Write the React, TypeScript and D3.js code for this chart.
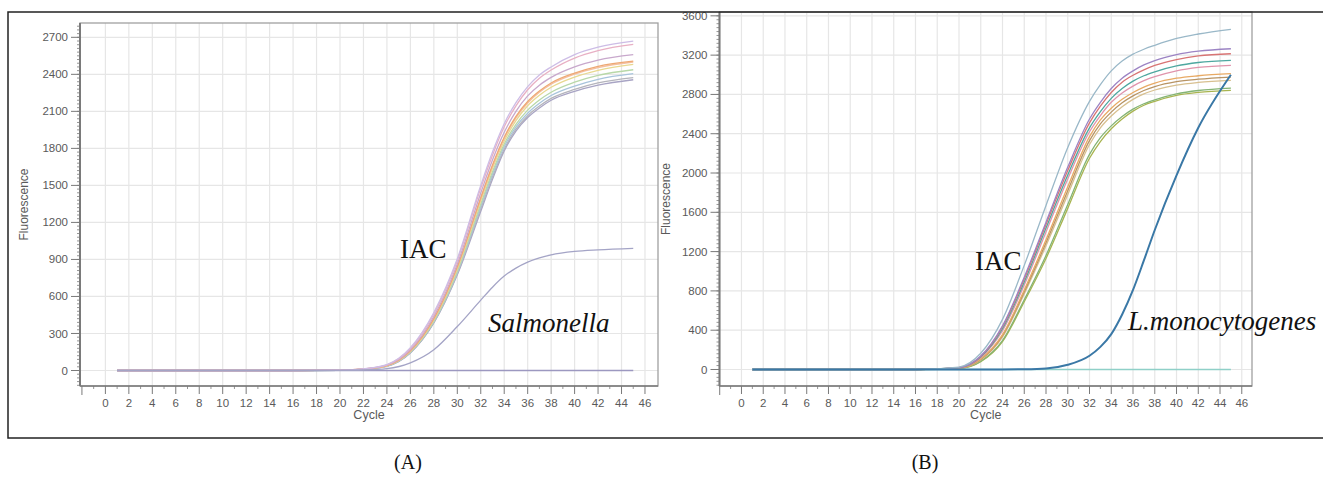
import React from 'react';
import * as d3 from 'd3';

// ---------- data ----------
const cycles = [1, 16, 20, 22, 24, 26, 28, 30, 32, 33, 34, 35, 36, 37, 38, 40, 42, 45];
const xTickLabels = [0, 2, 4, 6, 8, 10, 12, 14, 16, 18, 20, 22, 24, 26, 28, 30, 32, 34, 36, 38, 40, 42, 44, 46];
const yTicksA = [0, 300, 600, 900, 1200, 1500, 1800, 2100, 2400, 2700];
const yTicksB = [0, 400, 800, 1200, 1600, 2000, 2400, 2800, 3200, 3600];

// Panel A – IAC curves
const iacA1 = [0, 0, 3, 14, 48, 185, 470, 905, 1500, 1770, 2000, 2170, 2300, 2395, 2460, 2560, 2620, 2669];
const iacA2 = [0, 0, 3, 13, 46, 178, 458, 890, 1478, 1745, 1975, 2145, 2275, 2368, 2435, 2532, 2592, 2642];
const iacA3 = [0, 0, 3, 12, 43, 168, 438, 862, 1438, 1705, 1930, 2100, 2225, 2312, 2375, 2460, 2515, 2559];
const iacA4 = [0, 0, 3, 12, 40, 160, 420, 840, 1400, 1665, 1890, 2060, 2180, 2265, 2330, 2410, 2465, 2507];
const iacA5 = [0, 0, 3, 12, 40, 158, 418, 835, 1392, 1655, 1880, 2048, 2168, 2255, 2320, 2402, 2455, 2500];
const iacA6 = [0, 0, 3, 11, 38, 155, 410, 822, 1375, 1638, 1860, 2025, 2145, 2230, 2295, 2378, 2433, 2480];
const iacA7 = [0, 0, 2, 11, 37, 150, 400, 805, 1350, 1610, 1835, 1995, 2110, 2192, 2255, 2336, 2391, 2437];
const iacA8 = [0, 0, 2, 10, 36, 148, 395, 795, 1330, 1590, 1815, 1975, 2085, 2165, 2228, 2305, 2360, 2405];
const iacA9 = [0, 0, 2, 10, 35, 145, 390, 785, 1310, 1570, 1795, 1955, 2065, 2143, 2205, 2278, 2330, 2373];
const iacA10 = [0, 0, 2, 10, 34, 142, 385, 775, 1290, 1550, 1780, 1940, 2050, 2128, 2190, 2262, 2312, 2356];
const salmonella = [0, 0, 1, 4, 15, 62, 168, 356, 570, 675, 765, 830, 878, 912, 937, 965, 978, 990];
const baselineA = [0, 0, 0, 0, 0, 0, 0, 0, 0, 0, 0, 0, 0, 0, 0, 0, 0, 0];

// Panel B – IAC curves
const iacB1 = [0, 0, 25, 165, 510, 1060, 1670, 2260, 2730, 2900, 3040, 3140, 3210, 3260, 3300, 3370, 3415, 3463];
const iacB2 = [0, 0, 20, 138, 445, 940, 1500, 2060, 2550, 2720, 2860, 2965, 3040, 3100, 3145, 3205, 3240, 3265];
const iacB3 = [0, 0, 20, 132, 435, 920, 1475, 2025, 2510, 2680, 2820, 2925, 2995, 3050, 3095, 3155, 3192, 3214];
const iacB4 = [0, 0, 18, 128, 415, 890, 1440, 1980, 2460, 2625, 2760, 2860, 2935, 2990, 3030, 3090, 3125, 3147];
const iacB5 = [0, 0, 18, 122, 395, 860, 1400, 1940, 2420, 2585, 2720, 2815, 2885, 2940, 2980, 3040, 3075, 3096];
const iacB6 = [0, 0, 15, 108, 355, 810, 1320, 1860, 2370, 2540, 2660, 2750, 2820, 2875, 2915, 2965, 2990, 3011];
const iacB7 = [0, 0, 14, 102, 345, 790, 1290, 1820, 2330, 2500, 2620, 2715, 2785, 2840, 2880, 2930, 2955, 2977];
const iacB8 = [0, 0, 13, 97, 330, 770, 1260, 1780, 2290, 2460, 2580, 2675, 2750, 2805, 2845, 2895, 2922, 2943];
const iacB9 = [0, 0, 12, 85, 295, 710, 1160, 1680, 2190, 2360, 2480, 2575, 2650, 2705, 2745, 2805, 2840, 2865];
const iacB10 = [0, 0, 11, 80, 285, 690, 1130, 1640, 2150, 2320, 2450, 2550, 2630, 2690, 2730, 2790, 2820, 2842];
const lmono = [0, 0, 0, 0, 0, 2, 10, 48, 140, 230, 360, 560, 810, 1110, 1420, 1976, 2460, 3000];
const baselineB = [0, 0, 0, 0, 0, 0, 0, 0, 0, 0, 0, 0, 0, 0, 0, 0, 0, 0];

const seriesA = [iacA10, iacA9, iacA8, iacA7, iacA6, iacA5, iacA4, iacA3, iacA2, iacA1];
const colorsA = ['#a8a4c4', '#b4b4bc', '#a8c4dc', '#b8d8a8', '#e8d890', '#f4c0a0', '#eea874', '#c8a8cc', '#e8b0c4', '#cdbde6'];
const seriesB = [iacB10, iacB9, iacB8, iacB7, iacB6, iacB5, iacB4, iacB3, iacB2, iacB1];
const colorsB = ['#a8b450', '#84b474', '#d8c090', '#b89464', '#e8aa64', '#e094ac', '#4ea8a0', '#d87474', '#9c84c4', '#9ab8c8'];

// ---------- chart ----------
type PanelProps = {
  left: number; right: number; top: number; bottom: number;
  xDomain: [number, number]; yDomain: [number, number];
  yTicks: number[]; minorStep: number;
  series: number[][]; colors: string[];
  extra: { values: number[]; color: string; width: number }[];
  yLabelX: number;
};

function Panel(p: PanelProps) {
  const x = d3.scaleLinear().domain(p.xDomain).range([p.left, p.right]);
  const y = d3.scaleLinear().domain(p.yDomain).range([p.bottom, p.top]);
  const line = d3.line<number>()
    .x((_, i) => x(cycles[i]))
    .y((d) => y(d))
    .curve(d3.curveMonotoneX);
  const minors = d3.range(Math.ceil(p.yDomain[0] / p.minorStep) * p.minorStep, p.yDomain[1], p.minorStep);
  const xMinors = d3.range(-1, 47, 2);
  const axisColor = '#7a7a7a';
  const labelColor = '#5a5a5a';
  const cx = (p.left + p.right) / 2;
  const cy = (p.top + p.bottom) / 2;
  const clipId = `clip-${Math.round(p.left)}`;
  return (
    <g>
      <defs>
        <clipPath id={clipId}>
          <rect x={p.left} y={p.top} width={p.right - p.left} height={p.bottom - p.top} />
        </clipPath>
      </defs>
      {/* grid */}
      {xTickLabels.map((t) => (
        <line key={'gx' + t} x1={x(t)} x2={x(t)} y1={p.top} y2={p.bottom} stroke="#e6e6e6" strokeWidth={1.2} />
      ))}
      {p.yTicks.map((t) => (
        <line key={'gy' + t} x1={p.left} x2={p.right} y1={y(t)} y2={y(t)} stroke="#e6e6e6" strokeWidth={1.2} />
      ))}
      {/* curves */}
      <g clipPath={`url(#${clipId})`}>
        {p.series.map((s, i) => (
          <path key={'s' + i} d={line(s) || ''} fill="none" stroke={p.colors[i]} strokeWidth={1.3} />
        ))}
        {p.extra.map((e, i) => (
          <path key={'e' + i} d={line(e.values) || ''} fill="none" stroke={e.color} strokeWidth={e.width} />
        ))}
      </g>
      {/* frame */}
      <rect x={p.left} y={p.top} width={p.right - p.left} height={p.bottom - p.top} fill="none" stroke="#a0a0a0" strokeWidth={1.3} />
      <line x1={p.left} x2={p.left} y1={p.top} y2={p.bottom} stroke={axisColor} strokeWidth={2} />
      <line x1={p.left} x2={p.right} y1={p.bottom} y2={p.bottom} stroke={axisColor} strokeWidth={1.6} />
      {/* y ticks */}
      {minors.map((m) => (
        <line key={'my' + m} x1={p.left - 3} x2={p.left} y1={y(m)} y2={y(m)} stroke={axisColor} strokeWidth={0.8} />
      ))}
      {p.yTicks.map((t) => (
        <g key={'ty' + t}>
          <line x1={p.left - 9} x2={p.left} y1={y(t)} y2={y(t)} stroke={axisColor} strokeWidth={1} />
          <text x={p.left - 12} y={y(t)} dy="0.35em" textAnchor="end" fontSize={11.5} fill={labelColor}
            fontFamily="'Liberation Sans', Arial, sans-serif">{t}</text>
        </g>
      ))}
      {/* x ticks */}
      <line x1={x(-2)} x2={x(-2)} y1={p.bottom} y2={p.bottom + 9} stroke={axisColor} strokeWidth={1} />
      {xMinors.map((m) => (
        <line key={'mx' + m} x1={x(m)} x2={x(m)} y1={p.bottom} y2={p.bottom + 3} stroke={axisColor} strokeWidth={0.8} />
      ))}
      {xTickLabels.map((t) => (
        <g key={'tx' + t}>
          <line x1={x(t)} x2={x(t)} y1={p.bottom} y2={p.bottom + 8} stroke={axisColor} strokeWidth={1} />
          <text x={x(t)} y={p.bottom + 21} textAnchor="middle" fontSize={11.5} fill={labelColor}
            fontFamily="'Liberation Sans', Arial, sans-serif">{t}</text>
        </g>
      ))}
      <text x={cx} y={p.bottom + 33} textAnchor="middle" fontSize={12.5} fill={labelColor}
        fontFamily="'Liberation Sans', Arial, sans-serif">Cycle</text>
      <text transform={`translate(${p.yLabelX},${cy}) rotate(-90)`} textAnchor="middle" fontSize={12} fill={labelColor}
        fontFamily="'Liberation Sans', Arial, sans-serif">Fluorescence</text>
    </g>
  );
}

export default function App() {
  const W = 1323;
  const H = 479;
  const serif = "'Liberation Serif', 'Times New Roman', serif";
  return (
    <svg width={W} height={H} style={{ position: 'absolute', left: 0, top: 0, background: '#fff' }}>
      <rect x={0} y={0} width={W} height={H} fill="#fff" />
      <Panel left={80} right={658} top={23} bottom={386}
        xDomain={[-2.165, 47.11]} yDomain={[-125.6, 2816]}
        yTicks={yTicksA} minorStep={30}
        series={seriesA} colors={colorsA}
        extra={[
          { values: baselineA, color: '#9c98c0', width: 1.5 },
          { values: salmonella, color: '#a4a4c6', width: 1.3 },
        ]}
        yLabelX={28} />
      <Panel left={719.5} right={1252} top={12} bottom={386}
        xDomain={[-2.02, 46.94]} yDomain={[-168, 3639]}
        yTicks={yTicksB} minorStep={40}
        series={seriesB} colors={colorsB}
        extra={[
          { values: baselineB, color: '#8fd0c8', width: 1.5 },
          { values: lmono, color: '#3a78a6', width: 2 },
        ]}
        yLabelX={670} />
      {/* outer frame */}
      <rect x={8} y={12} width={1330} height={426} fill="none" stroke="#222" strokeWidth={1.5} />
      {/* annotations */}
      <text x={400} y={258} fontSize={27} fontFamily={serif} fill="#111">IAC</text>
      <text x={488} y={332} fontSize={27} fontFamily={serif} fontStyle="italic" fill="#111">Salmonella</text>
      <text x={975} y={270} fontSize={27} fontFamily={serif} fill="#111">IAC</text>
      <text x={1128} y={330} fontSize={27} fontFamily={serif} fontStyle="italic" fill="#111">L.monocytogenes</text>
      {/* captions */}
      <text x={408} y={469} fontSize={20} fontFamily={serif} textAnchor="middle" fill="#111">(A)</text>
      <text x={925} y={469} fontSize={20} fontFamily={serif} textAnchor="middle" fill="#111">(B)</text>
    </svg>
  );
}
